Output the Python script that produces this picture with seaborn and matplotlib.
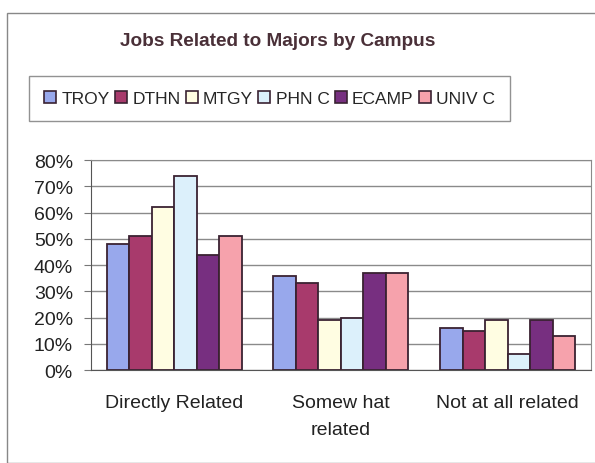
import matplotlib
matplotlib.use('Agg')
import matplotlib.pyplot as plt
import matplotlib.patches as mpatches
import pandas as pd
import seaborn as sns

categories = ['Directly Related', 'Somew hat\nrelated', 'Not at all related']
campuses = ['TROY', 'DTHN', 'MTGY', 'PHN C', 'ECAMP', 'UNIV C']
troy = [48, 36, 16]
dthn = [51, 33, 15]
mtgy = [62, 19, 19]
phnc = [74, 20, 6]
ecamp = [44, 37, 19]
univc = [51, 37, 13]
colors = ['#98a8ec', '#a83a6c', '#fffde2', '#dcf0fb', '#772f80', '#f6a2ac']

values = [troy, dthn, mtgy, phnc, ecamp, univc]
rows = []
for campus, vals in zip(campuses, values):
    for cat, v in zip(categories, vals):
        rows.append({'category': cat, 'campus': campus, 'pct': v})
df = pd.DataFrame(rows)

sns.set_style('white')
plt.rcParams['font.family'] = ['Liberation Sans', 'DejaVu Sans']

fig = plt.figure(figsize=(5.95, 4.64), dpi=100)
ax = fig.add_axes([0.153, 0.200, 0.840, 0.453])

sns.barplot(data=df, x='category', y='pct', hue='campus', order=categories,
            hue_order=campuses, palette=colors, saturation=1, width=0.81, gap=0,
            edgecolor='#3a2232', linewidth=1.3, ax=ax, legend=False)

ax.set_ylim(0, 80)
ax.set_xlim(-0.5, 2.5)
ax.set_yticks(range(0, 81, 10))
ax.set_yticklabels([f'{t}%' for t in range(0, 81, 10)], fontsize=14, color='#222222')
ax.yaxis.grid(True, color='#8a8a8a', linewidth=1)
ax.set_axisbelow(True)
ax.set_xlabel('')
ax.set_ylabel('')
ax.set_xticks(range(3))
ax.set_xticklabels(categories, fontsize=14, color='#222222', linespacing=1.75)
ax.tick_params(axis='x', length=0, pad=17)
ax.set_xticks([0.5, 1.5], minor=True)
ax.tick_params(axis='x', which='minor', length=5, color='#777777', direction='out')
ax.tick_params(axis='y', length=5, color='#777777', direction='out', left=True, pad=8)
for side in ['top', 'right']:
    ax.spines[side].set_color('#8a8a8a')
for side in ['left', 'bottom']:
    ax.spines[side].set_color('#555555')

fig.text(0.467, 0.91, 'Jobs Related to Majors by Campus', ha='center', va='center',
         fontsize=13.7, fontweight='bold', color='#4a3038')

handles = [mpatches.Patch(facecolor=c, edgecolor='#3a2232', linewidth=1.2, label=n)
           for c, n in zip(colors, campuses)]
leg = fig.legend(handles=handles, loc='center', bbox_to_anchor=(0.453, 0.785), ncol=6,
                 fontsize=12.5, frameon=True, fancybox=False, handlelength=0.7,
                 handleheight=0.7, handletextpad=0.3, columnspacing=0.3,
                 borderpad=0.85, borderaxespad=0)
leg.get_frame().set_edgecolor('#777777')
leg.get_frame().set_linewidth(1)

fig.patches.append(mpatches.Rectangle((7 / 595, 0.0), 1.0, 1 - 14 / 464,
                                      transform=fig.transFigure, fill=False,
                                      edgecolor='#888888', linewidth=1))

fig.savefig('out.png', dpi=100)
